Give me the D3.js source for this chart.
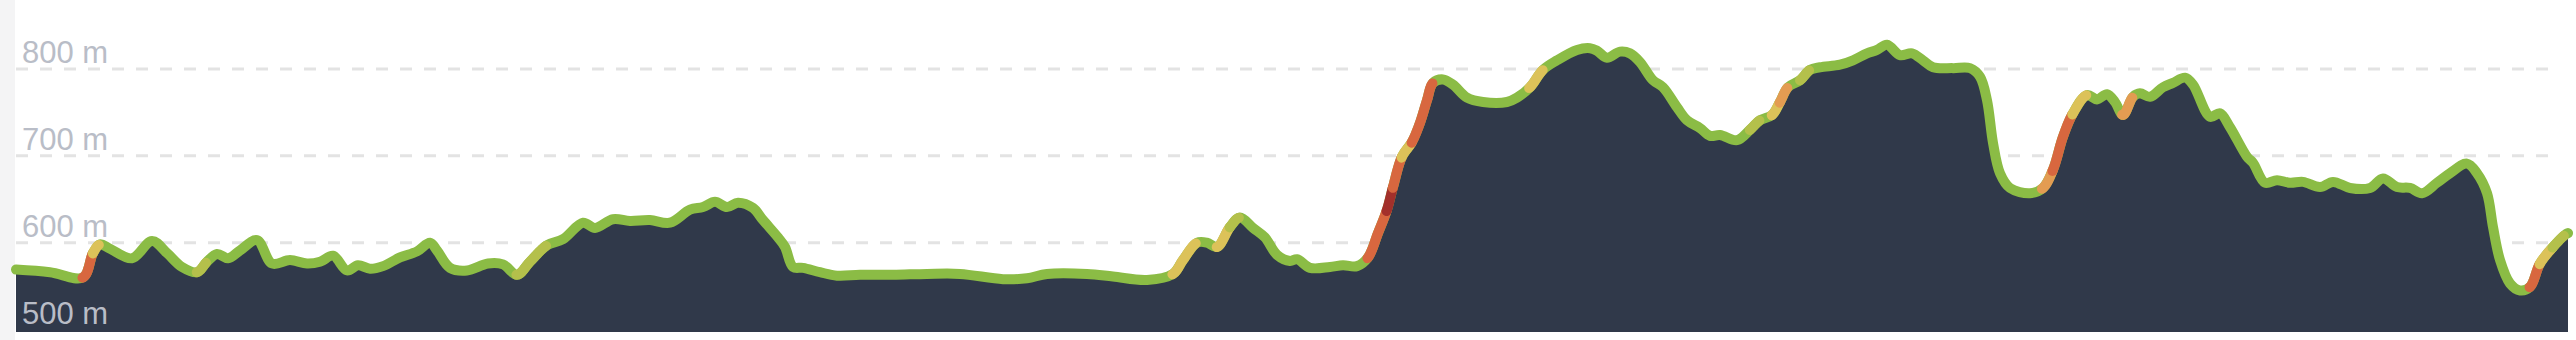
<!DOCTYPE html>
<html lang="en">

<head>
  <meta charset="UTF-8">
  <title>Elevation profile</title>
  <script src="https://d3js.org/d3.v7.min.js"></script>
  <style>
    body {
      margin: 0;
      background: white;
    }

    svg {
      display: block;
    }

    .tick-label {
      font-family: "Liberation Sans", Arial, Helvetica, sans-serif;
      font-size: 31px;
      fill: #b9bdc7;
    }
  </style>
</head>

<body>
  <div id="chart"></div>
  <script>

    // distance along the route (km) and elevation (m)
    const distanceKm = [
      0.00, 0.68, 1.34, 1.54, 1.68, 1.88, 2.32, 2.72, 3.02, 3.32, 3.62, 3.82, 4.02, 4.24, 4.48, 4.82,
      5.12, 5.48, 5.82, 6.08, 6.34, 6.62, 6.84, 7.08, 7.34, 7.68, 8.02, 8.28, 8.42, 8.68, 9.02, 9.44,
      9.74, 10.02, 10.28, 10.62, 10.94, 11.34, 11.58, 11.94, 12.28, 12.68, 13.08, 13.48, 13.74, 13.98,
      14.22, 14.44, 14.74, 14.94, 15.24, 15.38, 15.54, 15.74, 16.08, 16.42, 16.88, 17.54, 18.22, 18.88,
      19.74, 20.22, 20.62, 21.42, 21.94, 22.62, 23.14, 23.34, 23.62, 23.82, 24.02, 24.28, 24.48, 24.74,
      24.98, 25.22, 25.48, 25.62, 25.88, 26.28, 26.54, 26.82, 27.04, 27.24, 27.42, 27.54, 27.72, 27.92,
      28.08, 28.22, 28.34, 28.54, 28.74, 29.02, 29.34, 29.82, 30.02, 30.28, 30.54, 30.82, 31.22, 31.48,
      31.62, 31.82, 32.08, 32.28, 32.48, 32.74, 32.94, 33.22, 33.42, 33.68, 33.88, 34.08, 34.42, 34.68,
      34.88, 35.12, 35.28, 35.44, 35.68, 35.88, 36.08, 36.48, 36.74, 37.02, 37.22, 37.42, 37.68, 37.92,
      38.14, 38.34, 38.74, 39.08, 39.28, 39.42, 39.54, 39.68, 39.88, 40.28, 40.54, 40.74, 40.94, 41.14,
      41.42, 41.62, 41.82, 41.98, 42.14, 42.34, 42.48, 42.68, 42.94, 43.14, 43.38, 43.54, 43.88, 44.08,
      44.28, 44.62, 44.74, 44.98, 45.22, 45.48, 45.74, 46.08, 46.34, 46.68, 47.08, 47.34, 47.62, 47.88,
      48.12, 48.42, 48.68, 49.02, 49.22, 49.42, 49.54, 49.68, 49.88, 50.08, 50.28, 50.48, 50.74, 50.98,
      51.04
    ]

    const elevationM = [
      569, 566, 560, 588, 598, 593, 582, 602, 588, 572, 566, 578, 587, 582, 591, 603,
      576, 580, 576, 578, 585, 568, 574, 570, 573, 583, 590, 600, 591, 571, 568, 576,
      575, 563, 578, 597, 604, 623, 617, 627, 625, 626, 623, 638, 641, 647,
      641, 646, 640, 626, 606, 595, 572, 571, 566, 562, 563, 563, 564, 564,
      558, 559, 564, 564, 561, 557, 564, 580, 600, 600, 595, 618, 629, 617,
      606, 586, 579, 581, 571, 572, 574, 573, 583, 611, 638, 664, 699, 716,
      738, 764, 784, 788, 782, 767, 762, 762, 767, 779, 799, 810, 822, 824,
      821, 813, 820, 818, 808, 787, 779, 756, 741, 732, 723, 724, 718, 730,
      741, 747, 762, 779, 787, 799, 802, 805, 810, 818, 822, 828, 816, 818,
      810, 802, 801, 801, 791, 764, 715, 680, 663, 657, 663, 684, 722, 749,
      770, 765, 771, 762, 747, 768, 772, 768, 779, 784, 790, 782, 745, 749,
      733, 699, 692, 669, 672, 669, 670, 664, 670, 663, 663, 674, 664, 663,
      657, 669, 680, 691, 680, 657, 618, 580, 553, 545, 549, 576, 595, 609,
      611
    ]

    const yTicks = [500, 600, 700, 800]
    const tickLabels = ['500 m', '600 m', '700 m', '800 m']

    // grade (%) thresholds for colouring climbs
    const gradeBreaks = [5, 7, 10, 13, 20]

    const width = 2576
    const height = 340
    const left = 16
    const right = 2568
    const plotBottom = 332

    const data = distanceKm.map((d, i) => ({ dist: d, elev: elevationM[i] }))

    // grade of each segment, stored on its start point
    data.forEach((d, i) => {
      const n = data[i + 1] || d
      d.grade = n === d ? 0 : (n.elev - d.elev) / ((n.dist - d.dist) * 1000) * 100
    })

    const x = d3.scaleLinear()
      .domain([0, d3.max(distanceKm)])
      .range([left, right])

    const y = d3.scaleLinear()
      .domain([500, 800])
      .range([329.5, 69])

    const gradeColor = d3.scaleThreshold()
      .domain(gradeBreaks)
      .range(['#8bbc45', '#b4c04b', '#dcc259', '#e39c52', '#d8673f', '#a3302b'])

    const svg = d3.select('#chart')
      .append('svg')
      .attr('width', width)
      .attr('height', height)

    // light strip on the far left
    svg.append('rect')
      .attr('x', 0)
      .attr('y', 0)
      .attr('width', left - 1)
      .attr('height', height)
      .attr('fill', '#f4f4f5')

    // dashed grid
    svg.append('g')
      .selectAll('line')
      .data(yTicks)
      .enter()
      .append('line')
      .attr('x1', left)
      .attr('x2', 2560)
      .attr('y1', d => y(d))
      .attr('y2', d => y(d))
      .attr('stroke', '#e3e3e3')
      .attr('stroke-width', 3)
      .attr('stroke-dasharray', '12 12')

    const curve = d3.curveCatmullRom.alpha(0.5)

    const area = d3.area()
      .x(d => x(d.dist))
      .y0(plotBottom)
      .y1(d => y(d.elev))
      .curve(curve)

    svg.append('path')
      .datum(data)
      .attr('d', area)
      .attr('fill', '#30394a')

    const line = d3.line()
      .x(d => x(d.dist))
      .y(d => y(d.elev))
      .curve(curve)

    // base line, then walk along it and paint runs by the grade of the segment under each sample
    const base = svg.append('path')
      .datum(data)
      .attr('d', line)
      .attr('fill', 'none')
      .attr('stroke', gradeColor(0))
      .attr('stroke-width', 10)
      .attr('stroke-linejoin', 'round')
      .attr('stroke-linecap', 'round')

    const node = base.node()
    const total = node.getTotalLength()
    const bisect = d3.bisector(d => x(d.dist)).right
    const runs = []
    let run = null
    for (let s = 0; s <= total; s += 1.5) {
      const p = node.getPointAtLength(s)
      const i = Math.max(0, Math.min(data.length - 2, bisect(data, p.x) - 1))
      const c = gradeColor(data[i].grade)
      if (!run || run.color !== c) {
        run = { color: c, pts: run ? [run.pts[run.pts.length - 1]] : [] }
        runs.push(run)
      }
      run.pts.push([p.x, p.y])
    }

    svg.append('g')
      .selectAll('path')
      .data(runs.filter(r => r.color !== gradeColor(0)))
      .enter()
      .append('path')
      .attr('d', r => d3.line()(r.pts))
      .attr('fill', 'none')
      .attr('stroke', r => r.color)
      .attr('stroke-width', 10)
      .attr('stroke-linejoin', 'round')
      .attr('stroke-linecap', 'round')

    svg.append('g')
      .selectAll('text')
      .data(yTicks)
      .enter()
      .append('text')
      .attr('class', 'tick-label')
      .attr('x', 22)
      .attr('y', d => y(d) - 6)
      .text((d, i) => tickLabels[i])

  </script>
</body>

</html>
